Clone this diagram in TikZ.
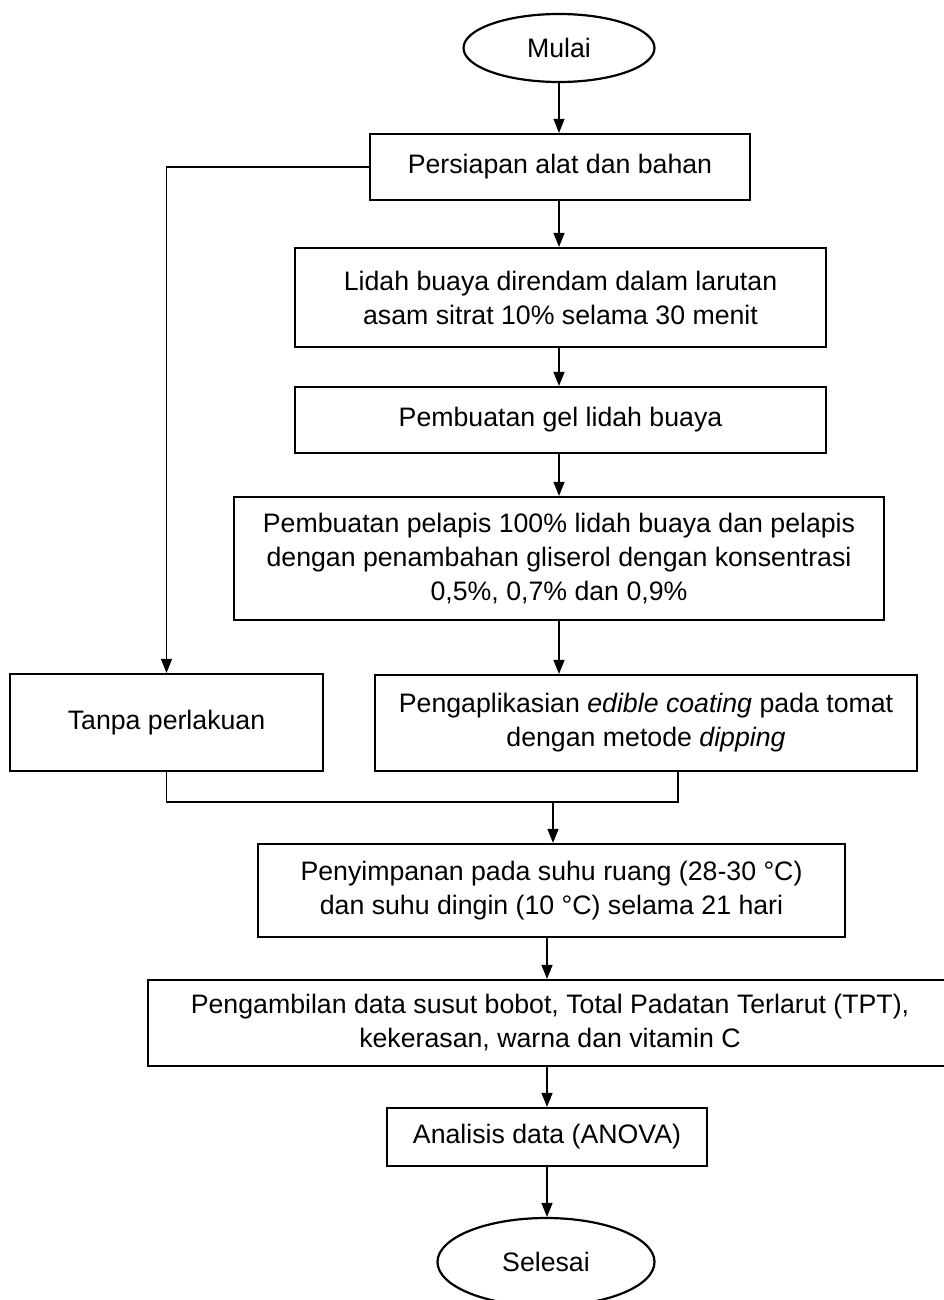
\documentclass[tikz,border=0pt]{standalone}
\usepackage{fontspec}
\setmainfont{Liberation Sans}
\usepackage{tikz}
\usetikzlibrary{shapes.geometric, positioning, arrows.meta}

\begin{document}
\begin{tikzpicture}[x=1pt, y=-1pt,
  kotak/.style={draw, line width=2.2pt, rectangle, inner sep=0pt, align=center, font=\fontsize{26.7}{34}\selectfont},
  elips/.style={draw, line width=2.2pt, ellipse, inner sep=0pt, font=\fontsize{26.7}{34}\selectfont},
  panah/.style={line width=1.2pt, -{Triangle[length=14pt, width=11pt]}},
  garis/.style={line width=1.2pt}]
\useasboundingbox (0, 0) rectangle (944, 1300);
\node [elips, minimum width=191pt, minimum height=68pt] (mulai) at (559, 48) {Mulai};
\node [kotak, minimum width=380pt, minimum height=66pt] (persiapan) at (560, 167) {Persiapan alat dan bahan};
\node [kotak, minimum width=531pt, minimum height=99pt] (rendam) at (560.5, 297.5) {Lidah buaya direndam dalam larutan\\asam sitrat 10\% selama 30 menit};
\node [kotak, minimum width=531pt, minimum height=66pt] (gel) at (560.5, 420) {Pembuatan gel lidah buaya};
\node [kotak, minimum width=650pt, minimum height=123pt] (pelapis) at (559, 558.5) {Pembuatan pelapis 100\% lidah buaya dan pelapis\\dengan penambahan gliserol dengan konsentrasi\\0,5\%, 0,7\% dan 0,9\%};
\node [kotak, minimum width=313pt, minimum height=97pt] (tanpa) at (166.5, 722.5) {Tanpa perlakuan};
\node [kotak, minimum width=542pt, minimum height=96pt] (aplikasi) at (646, 723) {Pengaplikasian \textit{edible coating} pada tomat\\dengan metode \textit{dipping}};
\node [kotak, minimum width=587pt, minimum height=93pt] (simpan) at (551.5, 890.5) {Penyimpanan pada suhu ruang (28-30 °C)\\dan suhu dingin (10 °C) selama 21 hari};
\node [kotak, minimum width=804pt, minimum height=86pt] (ambil) at (550, 1023) {Pengambilan data susut bobot, Total Padatan Terlarut (TPT),\\kekerasan, warna dan vitamin C};
\node [kotak, minimum width=320pt, minimum height=58pt] (analisis) at (547, 1137) {Analisis data (ANOVA)};
\node [elips, minimum width=217pt, minimum height=88pt] (selesai) at (546, 1262) {Selesai};
\coordinate (gabung) at (553, 802);
\coordinate (aplikasibawah) at (678, 771);
\draw [panah] (mulai.south) -- (mulai.south |- persiapan.north);
\draw [panah] (persiapan.south -| mulai) -- (rendam.north -| mulai);
\draw [panah] (rendam.south -| mulai) -- (gel.north -| mulai);
\draw [panah] (gel.south -| mulai) -- (pelapis.north -| mulai);
\draw [panah] (persiapan.west) -| (tanpa.north);
\draw [panah] (pelapis.south) -- (pelapis.south |- aplikasi.north);
\draw [garis] (tanpa.south) |- (gabung) -| (aplikasibawah);
\draw [panah] (gabung) -- (gabung |- simpan.north);
\draw [panah] (simpan.south -| analisis) -- (ambil.north -| analisis);
\draw [panah] (ambil.south -| analisis) -- (analisis.north);
\draw [panah] (analisis.south) -- (analisis.south |- selesai.north);
\end{tikzpicture}
\end{document}
